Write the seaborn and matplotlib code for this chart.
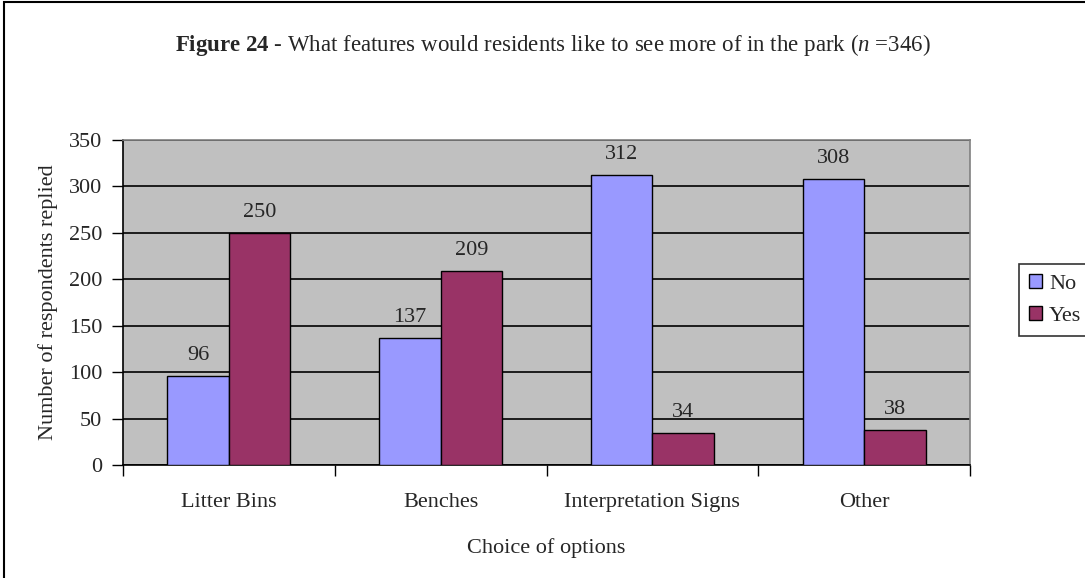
import matplotlib
matplotlib.use("Agg")
import matplotlib.pyplot as plt
import seaborn as sns
import pandas as pd
from matplotlib.patches import Rectangle
from matplotlib.ticker import FixedLocator, NullFormatter

options = ["Litter Bins", "Benches", "Interpretation Signs", "Other"]
no_counts = [96, 137, 312, 308]
yes_counts = [250, 209, 34, 38]
answers = ["No", "Yes"]
colors = ["#9999FF", "#993366"]

df = pd.DataFrame({
    "option": options * 2,
    "count": no_counts + yes_counts,
    "answer": ["No"] * len(options) + ["Yes"] * len(options),
})

sns.set_style("white")
plt.rcParams["font.family"] = ["Liberation Serif", "DejaVu Serif"]
plt.rcParams["mathtext.fontset"] = "custom"
plt.rcParams["mathtext.rm"] = "Liberation Serif"
plt.rcParams["mathtext.bf"] = "Liberation Serif:bold"
plt.rcParams["mathtext.it"] = "Liberation Serif:italic"

fs = 16
fig = plt.figure(figsize=(10.85, 5.78), dpi=100)
ax = fig.add_axes([123 / 1085, 1 - 465 / 578, 847 / 1085, 325 / 578])

sns.barplot(data=df, x="option", y="count", hue="answer", order=options,
            hue_order=answers, palette=colors, saturation=1, width=0.58,
            edgecolor="black", linewidth=1, ax=ax, legend=True, zorder=3)

# value labels above each bar
for c in ax.containers:
    ax.bar_label(c, padding=8, fontsize=fs)

ax.set_facecolor("#C0C0C0")
ax.set_ylim(0, 350)
ax.set_xlim(-0.5, 3.5)
ax.set_yticks(range(0, 351, 50))
ax.yaxis.grid(True, color="black", linewidth=1.2, zorder=0)
ax.set_axisbelow(True)

# ticks sit between categories, labels in the middle (Excel style)
ax.xaxis.set_major_locator(FixedLocator([-0.5, 0.5, 1.5, 2.5, 3.5]))
ax.xaxis.set_major_formatter(NullFormatter())
ax.xaxis.set_minor_locator(FixedLocator([0, 1, 2, 3]))
ax.set_xticklabels(options, minor=True)
ax.tick_params(axis="x", which="major", direction="out", length=8, width=1, color="black")
ax.tick_params(axis="x", which="minor", length=0, pad=20, labelsize=fs)
ax.tick_params(axis="y", direction="out", length=8, width=1, color="black", labelsize=fs, pad=7)
ax.tick_params(left=True, bottom=True)

for s in ["left", "bottom"]:
    ax.spines[s].set_color("black")
    ax.spines[s].set_linewidth(1.2)
for s in ["top", "right"]:
    ax.spines[s].set_color("#808080")
    ax.spines[s].set_linewidth(1.2)

ax.set_xlabel("Choice of options", fontsize=fs, labelpad=19)
ax.set_ylabel("Number of respondents replied", fontsize=fs, labelpad=8)

handles, labels = ax.get_legend_handles_labels()
ax.get_legend().remove()
leg = fig.legend(handles, labels, loc="center left",
                 bbox_to_anchor=(1019 / 1085, 1 - 300 / 578), frameon=True,
                 fancybox=False, edgecolor="black", fontsize=fs,
                 handlelength=0.6, handleheight=0.6, handletextpad=0.3,
                 borderpad=0.45, labelspacing=0.55, borderaxespad=0)
leg.get_frame().set_linewidth(1.2)

fig.text(553 / 1085, 1 - 45 / 578,
         r"$\mathbf{Figure\ 24}$ - What features would residents like to see more of in the park ($\mathit{n}$ =346)",
         ha="center", va="center", fontsize=16.5)

fig.patches.append(Rectangle((4 / 1085, -0.05), 1.0, 1.05 - 2 / 578,
                             transform=fig.transFigure, fill=False,
                             edgecolor="black", linewidth=1.5))

fig.savefig("out.png", dpi=100)
